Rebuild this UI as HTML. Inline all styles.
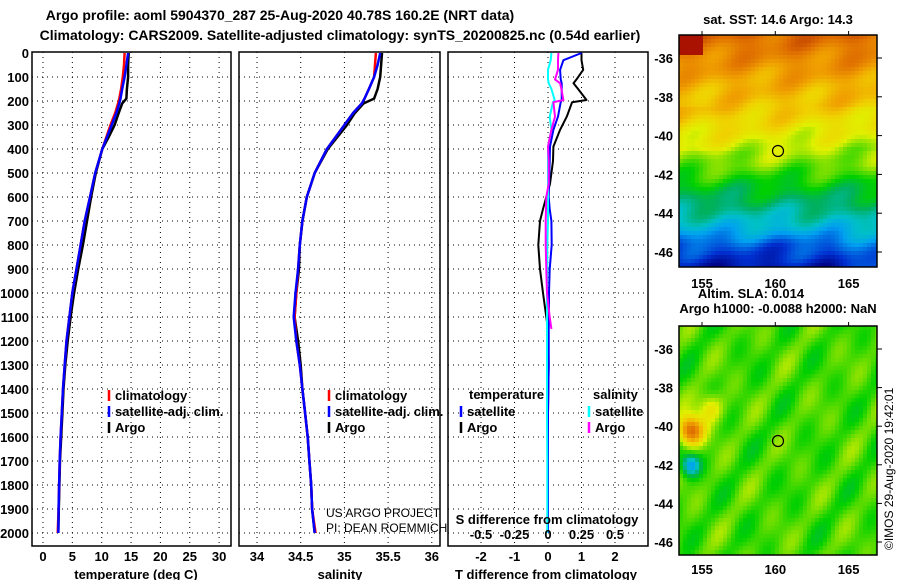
<!DOCTYPE html>
<html><head><meta charset="utf-8"><style>
body{margin:0;background:#fff;}
svg text{font-family:"Liberation Sans",sans-serif;}
.b{font-weight:bold;font-size:13px;}
.t{font-weight:bold;font-size:14px;}
.n{font-weight:normal;font-size:12px;}
</style></head><body>
<svg id="fig" width="900" height="580" viewBox="0 0 900 580" xmlns="http://www.w3.org/2000/svg">
<rect width="900" height="580" fill="#fff"/>
<text class="t" x="280" y="20" text-anchor="middle">Argo profile: aoml 5904370_287 25-Aug-2020 40.78S 160.2E (NRT data)</text>
<text class="t" x="340" y="40" text-anchor="middle">Climatology: CARS2009. Satellite-adjusted climatology: synTS_20200825.nc (0.54d earlier)</text>
<g id="g"></g>
</svg>
<script>
// ---- data ----
const depths   = [0,50,100,150,190,210,250,300,350,400,500,600,700,800,900,1000,1100,1200,1300,1400,1500,1600,1700,1800,1900,2000];
const tempArgo = [14.6,14.5,14.5,14.3,14.2,13.5,12.9,12.2,11.2,10.1,9.0,8.2,7.5,6.8,6.0,5.3,4.7,4.2,3.8,3.5,3.3,3.1,2.9,2.8,2.7,2.6];
const tempClim = [13.9,13.8,13.6,13.3,13.0,12.8,12.3,11.5,10.8,10.1,8.9,8.0,7.1,6.4,5.7,5.0,4.5,4.0,3.7,3.4,3.2,3.0,2.85,2.75,2.65,2.5];
const tempSat  = [14.5,14.2,13.9,13.5,13.2,13.0,12.5,11.7,10.9,10.1,8.9,8.0,7.1,6.4,5.7,5.0,4.5,4.0,3.7,3.4,3.2,3.0,2.85,2.75,2.65,2.6];
const salArgo  = [35.43,35.42,35.41,35.38,35.34,35.22,35.12,35.03,34.92,34.81,34.66,34.57,34.52,34.49,34.48,34.45,34.43,34.47,34.5,34.52,34.55,34.58,34.6,34.62,34.63,34.66];
const salClim  = [35.36,35.35,35.34,35.28,35.23,35.2,35.1,35.0,34.9,34.8,34.66,34.57,34.52,34.49,34.47,34.45,34.43,34.45,34.49,34.52,34.55,34.58,34.6,34.62,34.63,34.67];
const salSat   = [35.41,35.38,35.34,35.28,35.23,35.2,35.1,35.0,34.9,34.8,34.66,34.57,34.52,34.49,34.47,34.44,34.42,34.45,34.49,34.52,34.55,34.58,34.6,34.62,34.63,34.66];
const diffDepths = [0,30,70,110,126,150,196,205,265,320,390,450,545,600,650,700,800,900,1000,1100,1150,1300,1500,1700,2000];
const dTArgo  = [1.0,1.0,1.05,0.85,0.76,0.9,1.15,0.72,0.56,0.36,0.16,0.15,0.06,-0.05,-0.15,-0.24,-0.29,-0.24,-0.15,-0.05,0,0.02,0.0,0.0,0.0];
const dTSat   = [1.0,0.46,0.36,0.38,0.41,0.41,0.41,0.38,0.3,0.16,0.06,0.05,0.03,0.02,0.05,0.1,0.11,0.05,0.03,0.03,0.02,0.02,0.0,0.0,0.0];
const dSArgo4 = [0.31,0.3,0.3,0.21,0.36,0.4,0.46,0.16,0.21,0.1,0.0,0.02,0.02,-0.05,-0.06,-0.07,-0.07,-0.05,-0.03,0.05,0.1,null,null,null,null];
const dSSat4  = [0.1,0.08,0.0,0.0,0.02,0.1,0.2,0.15,0.05,0.1,0.0,0.0,0.0,0.0,0.0,0.0,-0.02,-0.02,-0.03,-0.03,-0.03,-0.03,-0.03,-0.02,-0.02];
const depthTicks = [0,100,200,300,400,500,600,700,800,900,1000,1100,1200,1300,1400,1500,1600,1700,1800,1900,2000];
const tTicks = [0,5,10,15,20,25,30];
const sTicks = [34,34.5,35,35.5,36];
const dTicks = [-2,-1,0,1,2];
const dSTicks = [-0.5,-0.25,0,0.25,0.5];
const latTicks = [-36,-38,-40,-42,-44,-46];
const lonTicks = [155,160,165];

// ---- scales ----
const yD = d => 53 + d*0.24;
const xT = v => 43 + v*5.87;
const xS = v => 257 + (v-34)*87.4;
const xDf = v => 548 + v*33.5;
const xDS = v => 548 + v*134;
const NS='http://www.w3.org/2000/svg';
const G=document.getElementById('g');
function el(tag,attrs,parent){const e=document.createElementNS(NS,tag);for(const k in attrs)e.setAttribute(k,attrs[k]);(parent||G).appendChild(e);return e;}
function txt(x,y,s,cls,anchor,parent){const e=el('text',{x:x,y:y,'class':cls||'b','text-anchor':anchor||'middle'},parent);e.textContent=s;return e;}

const panels=[
 {name:'temperature-panel',x0:32,x1:231,sx:xT,ticks:tTicks,title:'temperature (deg C)',tc:136},
 {name:'salinity-panel',x0:239,x1:440,sx:xS,ticks:sTicks,title:'salinity',tc:340},
 {name:'difference-panel',x0:448,x1:648,sx:xDf,ticks:dTicks,title:'T difference from climatology',tc:546}
];
panels.forEach(p=>{
  const g=el('g',{});
  
  
  depthTicks.forEach(d=>{ if(d>0){const l=el('line',{x1:p.x0,x2:p.x1,y1:yD(d),y2:yD(d),stroke:'#000','stroke-width':1,'stroke-dasharray':'1,4'},g);
    }});
  p.ticks.forEach(v=>{const l=el('line',{x1:p.sx(v),x2:p.sx(v),y1:52,y2:546,stroke:'#000','stroke-width':1,'stroke-dasharray':'1,4'},g);
    
    const t=txt(p.sx(v),561,String(v),'b','middle',g);
    });
  const r=el('rect',{x:p.x0,y:52,width:p.x1-p.x0,height:494,fill:'none',stroke:'#000','stroke-width':1.5},g);
  
  const tt=txt(p.tc,579,p.title,'b','middle',g);
  
});
depthTicks.forEach(d=>{const t=txt(29,yD(d)+5,String(d),'b','end');
  });

function stepPath(xs,ds,sx){let s='';let started=false;
  for(let i=0;i<ds.length;i++){if(xs[i]==null)continue;const X=sx(xs[i]).toFixed(1),Y=yD(ds[i]).toFixed(1);s+=(started?'L':'M')+X+','+Y;started=true;}return s;}
function line(xs,ds,sx,color,w,name){const p=el('path',{d:stepPath(xs,ds,sx),fill:'none',stroke:color,'stroke-width':w,'stroke-linejoin':'round'});
  }
line(tempArgo,depths,xT,'#000',2.5,'temp-argo-line');
line(tempClim,depths,xT,'#f00',2.5,'temp-clim-line');
line(tempSat,depths,xT,'#00f',2.5,'temp-sat-line');
line(salArgo,depths,xS,'#000',2.5,'sal-argo-line');
line(salClim,depths,xS,'#f00',2.5,'sal-clim-line');
line(salSat,depths,xS,'#00f',2.5,'sal-sat-line');
line(dTArgo,diffDepths,xDf,'#000',2,'dT-argo-line');
line(dTSat,diffDepths,xDf,'#00f',2,'dT-sat-line');
line(dSSat4,diffDepths,xDf,'#0ff',2,'dS-sat-line');
line(dSArgo4,diffDepths,xDf,'#f0f',2,'dS-argo-line');

// legends
function legEntry(x,y,color,label,name){const g=el('g',{});
  el('line',{x1:x,x2:x,y1:y-10,y2:y+1,stroke:color,'stroke-width':2.5},g);txt(x+6,y,label,'b','start',g);}
legEntry(109,400,'#f00','climatology','legend-entry-clim');
legEntry(109,416,'#00f','satellite-adj. clim.','legend-entry-sat');
legEntry(109,432,'#000','Argo','legend-entry-argo');
legEntry(329,400,'#f00','climatology','legend-entry-clim-s');
legEntry(329,416,'#00f','satellite-adj. clim.','legend-entry-sat-s');
legEntry(329,432,'#000','Argo','legend-entry-argo-s');
txt(469,399,'temperature','b','start');
txt(593,399,'salinity','b','start');
legEntry(461,416,'#00f','satellite','legend-entry-dT-sat');
legEntry(461,432,'#000','Argo','legend-entry-dT-argo');
legEntry(589,416,'#0ff','satellite','legend-entry-dS-sat');
legEntry(589,432,'#f0f','Argo','legend-entry-dS-argo');
dSTicks.forEach(v=>{const t=txt(xDS(v),539,String(v),'b','middle');});
const sd=txt(547,524,'S difference from climatology','b','middle');
const c1=txt(326,517,'US ARGO PROJECT','n','start');
const c2=txt(326,532,'PI: DEAN ROEMMICH','n','start');

// ---- maps ----
const stops=[[0,[0,0,128]],[0.1,[0,48,208]],[0.22,[0,160,240]],[0.3,[0,192,200]],[0.38,[0,176,96]],[0.46,[0,208,0]],[0.54,[128,224,0]],[0.6,[224,240,0]],[0.68,[240,208,0]],[0.76,[240,160,0]],[0.85,[224,112,0]],[0.93,[192,64,0]],[1,[160,0,0]]];
function cmap(t){t=Math.max(0,Math.min(1,t));for(let i=1;i<stops.length;i++){if(t<=stops[i][0]){const a=stops[i-1],b=stops[i],f=(t-a[0])/(b[0]-a[0]);
  return 'rgb('+a[1].map((c,k)=>Math.round(c+(b[1][k]-c)*f)).join(',')+')';}}return 'rgb(160,0,0)';}
const prof=[[0,0.86],[0.1,0.8],[0.2,0.74],[0.32,0.69],[0.45,0.6],[0.55,0.53],[0.63,0.45],[0.72,0.37],[0.82,0.27],[0.9,0.14],[1,0.05]];
function pint(y){for(let i=1;i<prof.length;i++){if(y<=prof[i][0]){const a=prof[i-1],b=prof[i];return a[1]+(b[1]-a[1])*(y-a[0])/(b[0]-a[0]);}}return 0.05;}
function drawMap(name,x0,y0,w,h,fn){const g=el('g',{});
  const cs=4;for(let y=0;y<h;y+=cs)for(let x=0;x<w;x+=cs){el('rect',{x:x0+x,y:y0+y,width:Math.min(cs,w-x),height:Math.min(cs,h-y),fill:cmap(fn(x/w,y/h))},g);}
  el('rect',{x:x0,y:y0,width:w,height:h,fill:'none',stroke:'#000','stroke-width':1.5},g);return g;}
drawMap('sst-map',679,35,198,232,(u,v)=>{let t=pint(v)+0.03*Math.sin(u*23+v*7)+0.025*Math.sin(v*41+u*11);
  if(v>0.3&&v<0.5)t-=0.04*(u-0.5);
  if(v>0.75&&u>0.75)t+=0.12*(u-0.75)*4*(v-0.75)*3;if(u<0.12&&v<0.07)t=0.98;return t;});
drawMap('sla-map',679,326,198,229,(u,v)=>{let t=0.5+0.04*Math.sin(u*19+1)*Math.sin(v*17+2)+0.03*Math.sin(u*31+v*23);
  const d1=(u-0.05)**2+(v-0.45)**2;t+=0.38*Math.exp(-d1/0.004);const d2=(u-0.05)**2+(v-0.6)**2;t-=0.28*Math.exp(-d2/0.002);
  const d3=(u-0.15)**2+(v-0.35)**2;t+=0.15*Math.exp(-d3/0.004);return t;});
[[778,151],[778,441]].forEach((c,i)=>{const e=el('circle',{cx:c[0],cy:c[1],r:5.5,fill:'none',stroke:'#000','stroke-width':1.2});
  });
[[35,-46,58,252],[326,-46,349,542]].forEach((m,i)=>{
  latTicks.forEach(l=>{const y=m[2]+(l+36)/(-10)*(m[3]-m[2]);const t=txt(673,y+5,String(l),'b','end');
    
    el('line',{x1:877,x2:882,y1:y,y2:y,stroke:'#000'});});
  lonTicks.forEach(l=>{const x=702+(l-155)*14.66;const t=txt(x,i==0?288:574,String(l),'b','middle');
    
    el('line',{x1:x,x2:x,y1:m[0]-4,y2:m[0],stroke:'#000'});});
});
txt(778,24,'sat. SST: 14.6 Argo: 14.3','b','middle');
txt(751,298,'Altim. SLA: 0.014','b','middle');
txt(778,313,'Argo h1000: -0.0088 h2000: NaN','b','middle');
const im=txt(0,0,'©IMOS 29-Aug-2020 19:42:01','n','start');
im.setAttribute('transform','translate(893,550) rotate(-90)');
</script>
</body></html>
